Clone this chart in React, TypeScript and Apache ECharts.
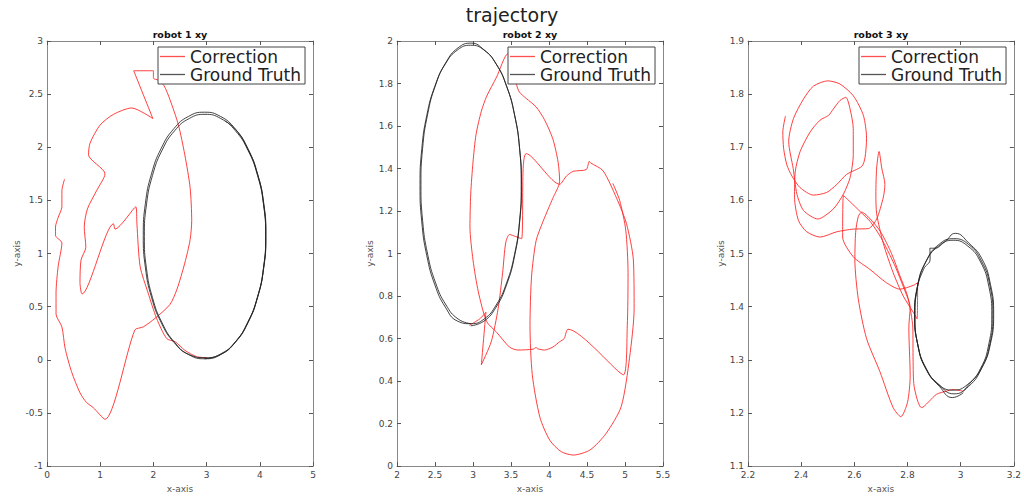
import React, { useEffect, useRef } from "react";
import * as echarts from "echarts";

const mainTitle = "trajectory";
const plotTitles = ["robot 1 xy", "robot 2 xy", "robot 3 xy"];
const legendNames = ["Correction", "Ground Truth"];

// robot 1
const r1Correction: number[][] = [
  [0.33, 1.70], [0.28, 1.59], [0.28, 1.44], [0.21, 1.34], [0.16, 1.25], [0.16, 1.17], [0.28, 1.10],
  [0.21, 0.88], [0.17, 0.63], [0.17, 0.43], [0.28, 0.31], [0.34, 0.11], [0.46, -0.11], [0.62, -0.31],
  [0.74, -0.40], [0.87, -0.45], [1.09, -0.56], [1.65, 0.28], [1.81, 0.31], [2.03, 0.39], [2.31, 0.52],
  [2.44, 0.66], [2.59, 0.91], [2.69, 1.13], [2.72, 1.31], [2.69, 1.62], [2.59, 1.93], [2.47, 2.21],
  [2.31, 2.45], [2.2, 2.58], [2.1, 2.63], [2.0, 2.65], [2.0, 2.72], [1.63, 2.72], [1.99, 2.27],
  [1.59, 2.37], [1.25, 2.31], [1.0, 2.21], [0.81, 2.04], [0.78, 1.93], [1.09, 1.75], [0.93, 1.59],
  [0.76, 1.42], [0.70, 1.25], [0.73, 1.06], [0.64, 0.94], [0.62, 0.73], [0.66, 0.62], [1.25, 1.28],
  [1.28, 1.23], [1.67, 1.44], [1.69, 1.28], [1.75, 0.88], [1.90, 0.63], [2.06, 0.39], [2.25, 0.20],
  [2.41, 0.17], [2.59, 0.09], [2.81, 0.03], [3.0, 0.02],
];
const r1Truth: number[][] = [
  [2.96, 0.01], [3.258, 0.049], [3.535, 0.165], [3.773, 0.35], [3.956, 0.59], [4.071, 0.87],
  [4.11, 1.17], [4.071, 1.47], [3.956, 1.75], [3.773, 1.99], [3.535, 2.175], [3.258, 2.291],
  [2.96, 2.33], [2.662, 2.291], [2.385, 2.175], [2.147, 1.99], [1.964, 1.75], [1.849, 1.47],
  [1.81, 1.17], [1.849, 0.87], [1.964, 0.59], [2.147, 0.35], [2.385, 0.165], [2.662, 0.049],
  [2.97, 0.01], [3.265, 0.049], [3.54, 0.164], [3.776, 0.347], [3.957, 0.585], [4.071, 0.862],
  [4.11, 1.16], [4.071, 1.458], [3.957, 1.735], [3.776, 1.973], [3.54, 2.156], [3.265, 2.271],
  [2.97, 2.31], [2.675, 2.271], [2.40, 2.156], [2.164, 1.973], [1.983, 1.735], [1.869, 1.458],
  [1.83, 1.16], [1.869, 0.862], [1.983, 0.585], [2.164, 0.347], [2.40, 0.164], [2.675, 0.049],
  [2.99, 0.02], [3.28, 0.06], [3.55, 0.175], [3.78, 0.36], [3.96, 0.595], [4.075, 0.87],
  [4.115, 1.17], [4.075, 1.47], [3.96, 1.745], [3.78, 1.98], [3.55, 2.165], [3.35, 2.245],
];

// robot 2
const r2Correction: number[][] = [
  [4.84, 1.33], [4.93, 1.25], [5.01, 1.11], [5.04, 0.91], [5.03, 0.66], [4.98, 0.43], [4.25, 0.644],
  [4.20, 0.60], [4.14, 0.585], [4.05, 0.56], [3.94, 0.546], [3.85, 0.552], [3.83, 0.558], [3.79, 0.55],
  [3.59, 0.546], [3.48, 0.56], [3.31, 0.63], [3.18, 0.68], [3.07, 0.82], [3.0, 0.97], [2.96, 1.125],
  [2.97, 1.28], [3.0, 1.43], [3.04, 1.56], [3.11, 1.67], [3.18, 1.74], [3.31, 1.83], [3.46, 1.94],
  [3.55, 1.90], [3.57, 1.80], [3.61, 1.76], [3.70, 1.73], [3.83, 1.69], [3.94, 1.63], [4.05, 1.54],
  [4.12, 1.43], [4.14, 1.34], [4.05, 1.26], [3.99, 1.21], [3.92, 1.15], [3.83, 1.06], [3.77, 0.89],
  [3.75, 0.66], [3.78, 0.43], [3.88, 0.23], [4.01, 0.122], [4.16, 0.068], [4.32, 0.052], [4.54, 0.076],
  [4.75, 0.153], [4.95, 0.28], [5.06, 0.51], [5.12, 0.74], [5.11, 0.97], [5.02, 1.14], [4.89, 1.26],
  [4.71, 1.39], [4.55, 1.426], [4.53, 1.434], [4.49, 1.395], [4.32, 1.387], [4.23, 1.365], [4.14, 1.326],
  [3.70, 1.47], [3.66, 1.40], [3.64, 1.07], [3.56, 1.08], [3.48, 1.09], [3.43, 1.05], [3.39, 0.91],
  [3.33, 0.74], [3.24, 0.585], [3.11, 0.477], [3.17, 0.724], [3.09, 0.693], [2.95, 0.662],
];
const r2Truth: number[][] = [
  [2.97, 0.66], [3.143, 0.682], [3.304, 0.748], [3.442, 0.853], [3.548, 0.99], [3.614, 1.149],
  [3.637, 1.32], [3.614, 1.491], [3.548, 1.65], [3.442, 1.787], [3.304, 1.892], [3.143, 1.958],
  [2.97, 1.98], [2.797, 1.958], [2.636, 1.892], [2.498, 1.787], [2.392, 1.65], [2.326, 1.491],
  [2.303, 1.32], [2.326, 1.149], [2.392, 0.99], [2.498, 0.853], [2.636, 0.748], [2.797, 0.682],
  [2.975, 0.67], [3.146, 0.692], [3.305, 0.758], [3.442, 0.862], [3.547, 0.997], [3.613, 1.155],
  [3.635, 1.325], [3.613, 1.495], [3.547, 1.653], [3.442, 1.788], [3.305, 1.892], [3.146, 1.958],
  [2.975, 1.99], [2.804, 1.968], [2.645, 1.9], [2.508, 1.793], [2.403, 1.655], [2.337, 1.495],
  [2.315, 1.325], [2.337, 1.155], [2.403, 0.997], [2.508, 0.862], [2.645, 0.758], [2.804, 0.692],
  [2.975, 0.67],
];

// robot 3
const r3Correction: number[][] = [
  [2.341, 1.759], [2.331, 1.729], [2.334, 1.698], [2.346, 1.667], [2.365, 1.646], [2.396, 1.624],
  [2.446, 1.610], [2.496, 1.615], [2.534, 1.630], [2.571, 1.649], [2.628, 1.664], [2.64, 1.68],
  [2.646, 1.717], [2.634, 1.760], [2.596, 1.797], [2.546, 1.819], [2.5, 1.825], [2.446, 1.815],
  [2.409, 1.791], [2.371, 1.754], [2.353, 1.711], [2.37, 1.66], [2.384, 1.612], [2.409, 1.581],
  [2.4625, 1.565], [2.521, 1.584], [2.559, 1.612], [2.584, 1.643], [2.596, 1.686], [2.596, 1.735],
  [2.584, 1.772], [2.568, 1.794], [2.546, 1.788], [2.521, 1.772], [2.503, 1.76], [2.471, 1.751],
  [2.434, 1.729], [2.396, 1.692], [2.378, 1.655], [2.375, 1.606], [2.39, 1.562], [2.421, 1.541],
  [2.471, 1.531], [2.534, 1.541], [2.596, 1.546], [2.653, 1.547], [2.684, 1.565], [2.709, 1.606],
  [2.715, 1.63], [2.703, 1.661], [2.693, 1.692], [2.684, 1.661], [2.681, 1.612], [2.684, 1.575],
  [2.709, 1.519], [2.746, 1.464], [2.784, 1.42], [2.821, 1.39], [2.836, 1.377], [2.838, 1.445],
  [2.821, 1.44], [2.771, 1.433], [2.721, 1.445], [2.659, 1.47], [2.596, 1.494], [2.556, 1.531],
  [2.559, 1.609], [2.62, 1.58], [2.66, 1.56], [2.70, 1.53], [2.75, 1.48], [2.79, 1.43], [2.81, 1.40],
  [2.805, 1.36], [2.81, 1.27], [2.80, 1.22], [2.775, 1.193], [2.746, 1.21], [2.696, 1.278], [2.646, 1.34],
  [2.615, 1.414], [2.602, 1.488], [2.605, 1.54], [2.615, 1.57], [2.628, 1.578], [2.66, 1.565],
  [2.70, 1.54], [2.74, 1.50], [2.77, 1.46], [2.80, 1.42], [2.82, 1.36], [2.821, 1.30], [2.825, 1.25],
  [2.853, 1.21], [2.909, 1.235], [2.946, 1.241], [2.971, 1.244], [3.009, 1.241],
];
const r3Truth: number[][] = [
  [3.009, 1.241], [3.030, 1.253], [3.078, 1.284], [3.110, 1.330], [3.121, 1.385], [3.110, 1.440],
  [3.078, 1.486], [3.030, 1.517], [2.974, 1.528], [2.918, 1.517], [2.870, 1.486], [2.838, 1.440],
  [2.827, 1.385], [2.838, 1.330], [2.870, 1.284], [2.918, 1.253], [2.972, 1.243], [3.027, 1.254],
  [3.075, 1.284], [3.106, 1.330], [3.117, 1.384], [3.106, 1.438], [3.075, 1.484], [3.027, 1.514],
  [2.972, 1.525], [2.917, 1.514], [2.869, 1.484], [2.838, 1.438], [2.827, 1.384], [2.838, 1.330],
  [2.869, 1.284], [2.917, 1.254], [2.975, 1.236], [3.03, 1.25], [3.08, 1.285], [3.112, 1.33],
  [3.124, 1.386], [3.112, 1.442], [3.08, 1.49], [3.03, 1.52], [2.98, 1.538], [2.94, 1.522], [2.90, 1.51],
  [2.884, 1.51], [2.885, 1.49], [2.86, 1.47], [2.835, 1.43], [2.828, 1.385], [2.84, 1.325], [2.872, 1.28],
  [2.92, 1.25], [2.969, 1.229], [3.01, 1.238],
];

const xRanges = [[0, 5, 1], [2, 5.5, 0.5], [2.2, 3.2, 0.2]];
const yRanges = [[-1, 3, 0.5], [0, 2, 0.2], [1.1, 1.9, 0.1]];
const gridLefts = [47, 397, 748];
const legendLefts = [158, 508, 859];
const yNameGaps = [23, 20, 20];

const correctionData = [r1Correction, r2Correction, r3Correction];
const truthData = [r1Truth, r2Truth, r3Truth];

const FONT = "DejaVu Sans";

export default function App() {
  const ref = useRef<HTMLDivElement>(null);
  useEffect(() => {
    if (!ref.current) return;
    const chart = echarts.init(ref.current, null, { renderer: "svg" });
    const grids: any[] = [];
    const xAxes: any[] = [];
    const yAxes: any[] = [];
    const series: any[] = [];
    const legends: any[] = [];
    const graphics: any[] = [
      {
        type: "text",
        x: 512,
        y: 15,
        style: {
          text: mainTitle, fontSize: 19, fontFamily: FONT, fill: "#222",
          align: "center", verticalAlign: "middle", textAlign: "center", textVerticalAlign: "middle",
        },
      },
    ];
    const axisLine = { show: true, onZero: false, lineStyle: { color: "#888", width: 1 } };
    const axisTick = { show: true, inside: true, length: 4, lineStyle: { color: "#555", width: 1 } };
    for (let g = 0; g < 3; g++) {
      grids.push({ left: gridLefts[g], top: 41, width: 266, height: 432, containLabel: false });
      const [xmin, xmax, xint] = xRanges[g];
      const [ymin, ymax, yint] = yRanges[g];
      xAxes.push({
        type: "value", gridIndex: g, min: xmin, max: xmax, interval: xint, position: "bottom",
        axisLine, axisTick, splitLine: { show: false },
        axisLabel: { fontSize: 9, color: "#444", margin: 4, fontFamily: FONT },
        name: "x-axis", nameLocation: "middle", nameGap: 13,
        nameTextStyle: { fontSize: 9, color: "#555", fontFamily: FONT },
      });
      xAxes.push({
        type: "value", gridIndex: g, min: xmin, max: xmax, interval: xint, position: "top",
        axisLine, axisTick, splitLine: { show: false }, axisLabel: { show: false },
      });
      yAxes.push({
        type: "value", gridIndex: g, min: ymin, max: ymax, interval: yint, position: "left",
        axisLine, axisTick, splitLine: { show: false },
        axisLabel: { fontSize: 9, color: "#444", margin: 4, fontFamily: FONT },
        name: "y-axis", nameLocation: "middle", nameGap: yNameGaps[g],
        nameTextStyle: { fontSize: 9, color: "#555", fontFamily: FONT },
      });
      yAxes.push({
        type: "value", gridIndex: g, min: ymin, max: ymax, interval: yint, position: "right",
        axisLine, axisTick, splitLine: { show: false }, axisLabel: { show: false },
      });
      series.push({
        type: "line", name: legendNames[0], xAxisIndex: 2 * g, yAxisIndex: 2 * g,
        data: correctionData[g], symbol: "none", smooth: 0.25,
        lineStyle: { color: "#ff2a2a", width: 1, opacity: 0.9 }, itemStyle: { color: "#ff5050" },
        z: 2,
      });
      series.push({
        type: "line", name: legendNames[1], xAxisIndex: 2 * g, yAxisIndex: 2 * g,
        data: truthData[g], symbol: "none", smooth: 0.5,
        lineStyle: { color: "#222", width: 1, opacity: 0.85 }, itemStyle: { color: "#555" },
        z: 3,
      });
      legends.push({
        data: legendNames, left: legendLefts[g], top: 47, orient: "vertical",
        icon: "rect",
        backgroundColor: "#fff", borderColor: "#444", borderWidth: 1, borderRadius: 0,
        padding: [1, 4, 1, 2], itemGap: 1, itemWidth: 25, itemHeight: 1.3,
        selectedMode: false,
        textStyle: { fontSize: 17, color: "#222", fontFamily: FONT, lineHeight: 17 },
      });
      graphics.push({
        type: "text",
        x: gridLefts[g] + 133,
        y: 34.5,
        style: {
          text: plotTitles[g], fontSize: 9.5, fontWeight: "bold", fontFamily: FONT, fill: "#111",
          align: "center", verticalAlign: "middle", textAlign: "center", textVerticalAlign: "middle",
        },
      });
    }
    chart.setOption({
      animation: false,
      backgroundColor: "#fff",
      grid: grids,
      xAxis: xAxes,
      yAxis: yAxes,
      legend: legends,
      series,
      graphic: graphics,
    });
    return () => chart.dispose();
  }, []);
  return (
    <div
      ref={ref}
      style={{ position: "absolute", left: 0, top: 0, width: 1024, height: 498, background: "#fff" }}
    />
  );
}
